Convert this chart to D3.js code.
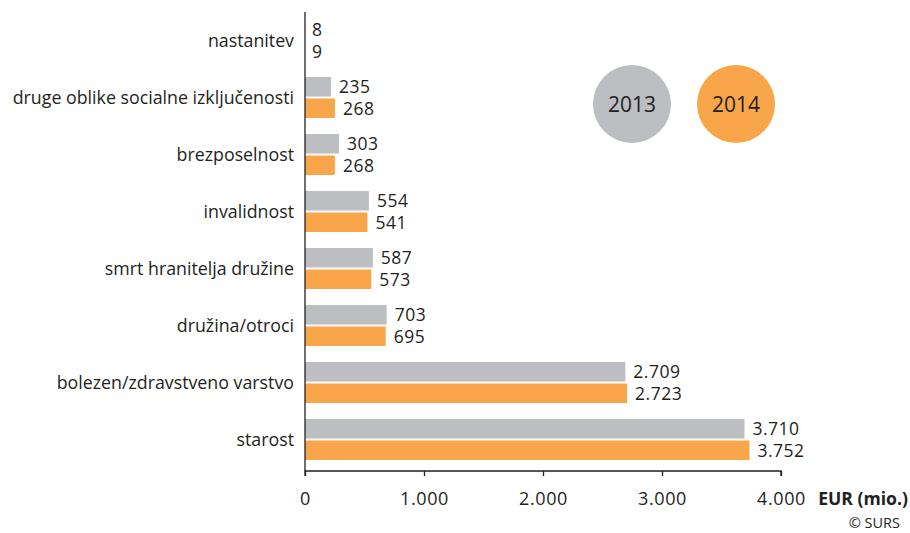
<!DOCTYPE html>
<html>
<head>
<meta charset="utf-8">
<script src="https://cdn.jsdelivr.net/npm/d3@7"></script>
<style>
  html, body { margin: 0; padding: 0; background: #fff; }
  svg { display: block; }
  text { font-family: "Open Sans", "DejaVu Sans", sans-serif; fill: #231f20; }
</style>
</head>
<body>
<svg id="chart" width="910" height="533"></svg>
<script>
const categories = ["nastanitev", "druge oblike socialne izključenosti", "brezposelnost", "invalidnost", "smrt hranitelja družine", "družina/otroci", "bolezen/zdravstveno varstvo", "starost"];
const values2013 = [8, 235, 303, 554, 587, 703, 2709, 3710];
const values2014 = [9, 268, 268, 541, 573, 695, 2723, 3752];
const seriesNames = ["2013", "2014"];
const xTicks = [0, 1000, 2000, 3000, 4000];

const colors = ["#bdbec2", "#f9a64a"];
const svg = d3.select("#chart");

const x = d3.scaleLinear().domain([0, 4000]).range([305, 781]);
const y = d3.scaleBand().domain(categories).range([12, 468]);
const fmt = v => d3.format(",")(v).replace(/,/g, ".");

const barH = 19.5, gap = 1;

// bars
const series = [values2013, values2014];
series.forEach((vals, si) => {
  const g = svg.append("g");
  categories.forEach((c, i) => {
    const cy = y(c) + y.bandwidth() / 2;
    const top = si === 0 ? cy - gap - barH : cy + gap;
    g.append("rect")
      .attr("x", x(0))
      .attr("y", top)
      .attr("width", Math.max(0, x(vals[i]) - x(0) - 2))
      .attr("height", barH)
      .attr("fill", colors[si]);
    g.append("text")
      .attr("x", x(vals[i]) + 6)
      .attr("y", top + barH / 2)
      .attr("dy", "0.36em")
      .attr("font-size", 17.5)
      .attr("letter-spacing", 0.5)
      .text(fmt(vals[i]));
  });
});

// category labels
svg.append("g").selectAll("text").data(categories).join("text")
  .attr("x", 294)
  .attr("y", d => y(d) + y.bandwidth() / 2)
  .attr("dy", "0.36em")
  .attr("text-anchor", "end")
  .attr("font-size", 17.8)
  .text(d => d);

// y axis line
svg.append("line").attr("x1", 305).attr("x2", 305).attr("y1", 12).attr("y2", 471)
  .attr("stroke", "#231f20").attr("stroke-width", 1.3);

// x axis
const xAxis = d3.axisBottom(x).tickValues(xTicks).tickSize(5).tickPadding(16).tickFormat(fmt);
const gx = svg.append("g").attr("transform", "translate(0,471)").call(xAxis);
gx.select(".domain").attr("stroke", "#231f20").attr("stroke-width", 1.3)
  .attr("d", `M${x(0)},5V0H${x(4000)}V5`);
gx.selectAll(".tick line").attr("stroke", "#231f20").attr("stroke-width", 1.3);
gx.selectAll(".tick text").attr("font-size", 18).attr("fill", "#231f20")
  .attr("letter-spacing", 0.6)
  .style("font-family", "'Open Sans', sans-serif");

svg.append("text").attr("x", 908).attr("y", 505).attr("text-anchor", "end")
  .attr("font-size", 17.6).attr("font-weight", "bold").text("EUR (mio.)");
svg.append("text").attr("x", 900).attr("y", 528).attr("text-anchor", "end")
  .attr("font-size", 14.5).text("© SURS");

// legend
const legX = [632, 736];
seriesNames.forEach((s, i) => {
  svg.append("circle").attr("cx", legX[i]).attr("cy", 104).attr("r", 39).attr("fill", colors[i]);
  svg.append("text").attr("x", legX[i]).attr("y", 104).attr("dy", "0.36em")
    .attr("text-anchor", "middle").attr("font-size", 21).text(s);
});
</script>
</body>
</html>
